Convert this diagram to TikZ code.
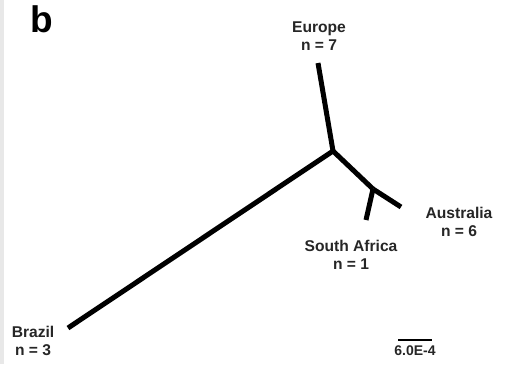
\documentclass[tikz,border=0pt]{standalone}
\usepackage{fontspec}
\setmainfont{Liberation Sans}
\usetikzlibrary{positioning}
\tikzset{
  branch/.style   = {line width=5pt,line cap=butt},
  scalebar/.style = {line width=2pt},
  taxon/.style    = {align=center,inner sep=0pt,font=\bfseries\fontsize{15.6}{18}\selectfont,text=black!85}
}

\begin{document}
\begin{tikzpicture}[x=1pt,y=-1pt]
  \useasboundingbox (0,0) rectangle (513,364);
  \fill[black!9] (0,0) rectangle (4,364);
  \node[font=\bfseries\fontsize{37}{37}\selectfont,inner sep=0pt,anchor=base] (panel) at (42,32) {b};
  % tree
  \coordinate (root)   at (333,151);
  \coordinate (inner)  at (373,189);
  \coordinate (eutip)  at (318,63);
  \coordinate (autip)  at (401,207);
  \coordinate (satip)  at (366,220);
  \coordinate (brtip)  at (68,328);
  \draw[branch] (root) -- (eutip);
  \draw[branch] (root) -- (brtip);
  \draw[branch] (root) -- (inner);
  \draw[branch] (inner) -- (autip);
  \draw[branch] (inner) -- (satip);
  \node[taxon] (europe)    at (319,36)  {Europe\\n = 7};
  \node[taxon] (australia) at (459,222) {Australia\\n = 6};
  \node[taxon] (safrica)   at (351,255) {South Africa\\n = 1};
  \node[taxon] (brazil)    at (33,341)  {Brazil\\n = 3};
  % scale
  \coordinate (sbl) at (398,340);
  \coordinate (sbr) at (432,340);
  \draw[scalebar] (sbl) -- (sbr);
  \node[font=\bfseries\fontsize{14}{14}\selectfont,inner sep=0pt,text=black!85] (sblabel) at (415,351) {6.0E-4};
\end{tikzpicture}
\end{document}
